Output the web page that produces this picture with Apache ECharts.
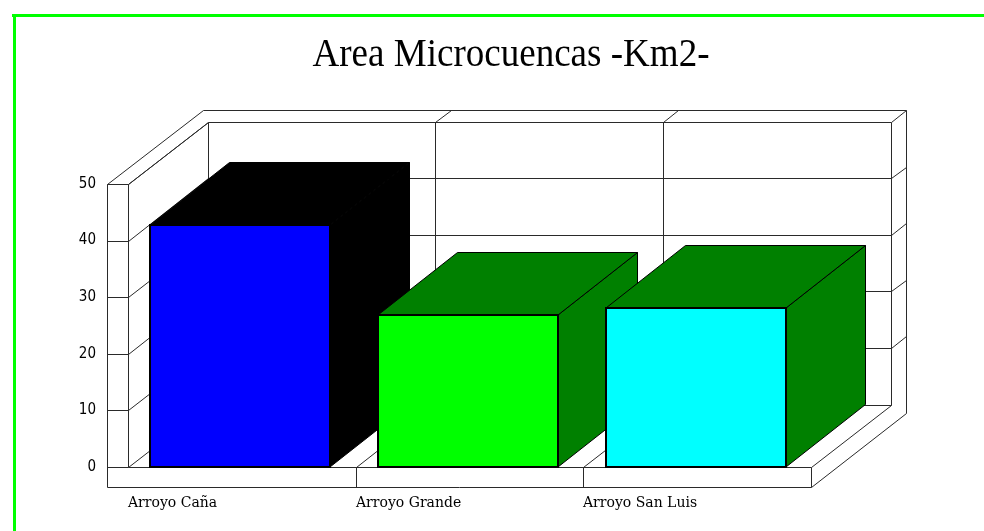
<!DOCTYPE html>
<html>
<head>
<meta charset="utf-8">
<script src="https://cdn.jsdelivr.net/npm/echarts@6/dist/echarts.min.js"></script>
<style>
  html, body { margin: 0; padding: 0; background: #ffffff; }
  #chart { width: 984px; height: 531px; }
</style>
</head>
<body>
<div id="chart"></div>
<script>
// ---- data ----
const chartTitle = 'Area Microcuencas -Km2-';
const categories = ['Arroyo Caña', 'Arroyo Grande', 'Arroyo San Luis'];
const areas = [42.8, 26.8, 28.1];
const yTicks = [0, 10, 20, 30, 40, 50];

// ---- style ----
const frontColors = ['#0000ff', '#00ff00', '#00ffff'];
const sideColors = ['#000000', '#008000', '#008000'];
const DEPTH = [79.5, -62.5];   // depth of the box interior (floor to back wall)
const WALL = [15.5, -11.5];    // extra depth taken by the back wall slab
const SIDE_W = 20.5;           // thickness of the left wall
const FLOOR_H = 20;            // thickness of the floor slab
const BAR_GAP = 0.0985;        // gap before a bar, as a share of the band
const BAR_W = 0.792;           // bar width, as a share of the band
const LINE = '#2a2a2a';

const crisp = v => Math.round(v) + 0.5;

function frameItem(params, api) {
  const n = categories.length;
  const bw = api.size([1, 0])[0];
  const x0 = api.coord([0, 0])[0] - bw / 2;
  const xr = x0 + bw * n;
  const y0 = api.coord([0, yTicks[0]])[1];
  const yTop = api.coord([0, yTicks[yTicks.length - 1]])[1];
  const xl = x0 - SIDE_W;
  const yb = y0 + FLOOR_H;
  const dx = DEPTH[0], dy = DEPTH[1];
  const tx = dx + WALL[0], ty = dy + WALL[1];
  const children = [];
  const line = (x1, y1, x2, y2) => children.push({
    type: 'line',
    shape: { x1: crisp(x1), y1: crisp(y1), x2: crisp(x2), y2: crisp(y2) },
    style: { stroke: LINE, lineWidth: 1 }
  });

  // front face of left wall and floor
  line(xl, yTop, xl, yb);
  line(xl, yb, xr, yb);
  line(xr, yb, xr, y0);
  line(x0, y0, xr, y0);
  line(x0, yTop, x0, y0);
  line(xl, yTop, x0, yTop);
  // top of the left wall and back wall
  line(xl, yTop, xl + tx, yTop + ty);
  line(x0, yTop, x0 + dx, yTop + dy);
  line(xl + tx, yTop + ty, xr + tx, yTop + ty);
  // back wall face edges
  line(x0 + dx, yTop + dy, x0 + dx, y0 + dy);
  line(xr + dx, yTop + dy, xr + dx, y0 + dy);
  // right end of the floor and back wall
  line(xr + tx, yTop + ty, xr + tx, yb + ty);
  line(xr, y0, xr + dx, y0 + dy);
  line(xr, yb, xr + tx, yb + ty);

  // value grid
  yTicks.forEach((t, k) => {
    const y = api.coord([0, t])[1];
    line(x0 + dx, y + dy, xr + dx, y + dy);
    line(x0, y, x0 + dx, y + dy);
    line(xl, y, x0, y);
    if (k > 0) line(xr + dx, y + dy, xr + tx, y + ty);
  });

  // category separators
  for (let i = 1; i < n; i++) {
    const bx = x0 + bw * i;
    line(bx, y0, bx, yb);
    line(bx, y0, bx + dx, y0 + dy);
    line(bx + dx, yTop + dy, bx + dx, y0 + dy);
    line(bx + dx, yTop + dy, bx + tx, yTop + ty);
  }

  // category names, starting at each band's left edge
  categories.forEach((name, i) => {
    children.push({
      type: 'text',
      x: Math.round(x0 + bw * i),
      y: Math.round(yb + 16),
      style: {
        text: name,
        fill: '#000',
        font: '14px "DejaVu Serif", serif',
        align: 'left',
        verticalAlign: 'middle'
      }
    });
  });

  return { type: 'group', children };
}

function barItem(params, api) {
  const i = api.value(0);
  const v = api.value(1);
  const bw = api.size([1, 0])[0];
  const c = api.coord([i, v]);
  const base = api.coord([i, 0]);
  const left = Math.round(c[0] - bw / 2 + bw * BAR_GAP);
  const right = Math.round(left + bw * BAR_W);
  const top = Math.round(c[1]);
  const bot = Math.round(base[1]);
  const dx = DEPTH[0], dy = DEPTH[1];
  const side = sideColors[i];
  return {
    type: 'group',
    children: [
      {
        type: 'polygon',
        shape: { points: [[right, top], [right + dx, top + dy], [right + dx, bot + dy], [right, bot]] },
        style: { fill: side, stroke: '#000', lineWidth: 1 }
      },
      {
        type: 'polygon',
        shape: { points: [[left, top], [left + dx, top + dy], [right + dx, top + dy], [right, top]] },
        style: { fill: side, stroke: '#000', lineWidth: 1 }
      },
      {
        type: 'rect',
        shape: { x: left, y: top, width: right - left, height: bot - top },
        style: { fill: frontColors[i], stroke: '#000', lineWidth: 2 }
      }
    ]
  };
}

const chart = echarts.init(document.getElementById('chart'), null, { renderer: 'canvas' });
chart.setOption({
  animation: false,
  backgroundColor: '#ffffff',
  graphic: [
    { type: 'line', shape: { x1: 12, y1: 15.5, x2: 984, y2: 15.5 }, style: { stroke: '#00ff00', lineWidth: 3 }, silent: true },
    { type: 'line', shape: { x1: 14.5, y1: 14, x2: 14.5, y2: 531 }, style: { stroke: '#00ff00', lineWidth: 3 }, silent: true },
    {
      type: 'text', x: 511, y: 55, scaleX: 0.926, silent: true,
      style: { text: chartTitle, fill: '#000', font: '40px "Liberation Serif", "Times New Roman", serif', align: 'center', verticalAlign: 'middle' }
    }
  ],
  grid: { left: 128, right: 173, top: 184, bottom: 64 },
  xAxis: {
    type: 'category',
    data: categories,
    boundaryGap: true,
    axisLine: { show: false },
    axisTick: { show: false },
    axisLabel: { show: false },
    splitLine: { show: false }
  },
  yAxis: {
    type: 'value',
    min: yTicks[0],
    max: yTicks[yTicks.length - 1],
    interval: yTicks[1] - yTicks[0],
    axisLine: { show: false },
    axisTick: { show: false },
    splitLine: { show: false },
    axisLabel: {
      margin: 32,
      color: '#000',
      fontSize: 15,
      fontFamily: '"Liberation Sans Narrow", "DejaVu Sans Condensed", sans-serif'
    }
  },
  series: [
    {
      type: 'custom',
      silent: true,
      z: 1,
      renderItem: frameItem,
      data: [[0, 0]]
    },
    {
      type: 'custom',
      silent: true,
      z: 2,
      renderItem: barItem,
      data: areas.map((a, i) => [i, a])
    }
  ]
});
</script>
</body>
</html>
